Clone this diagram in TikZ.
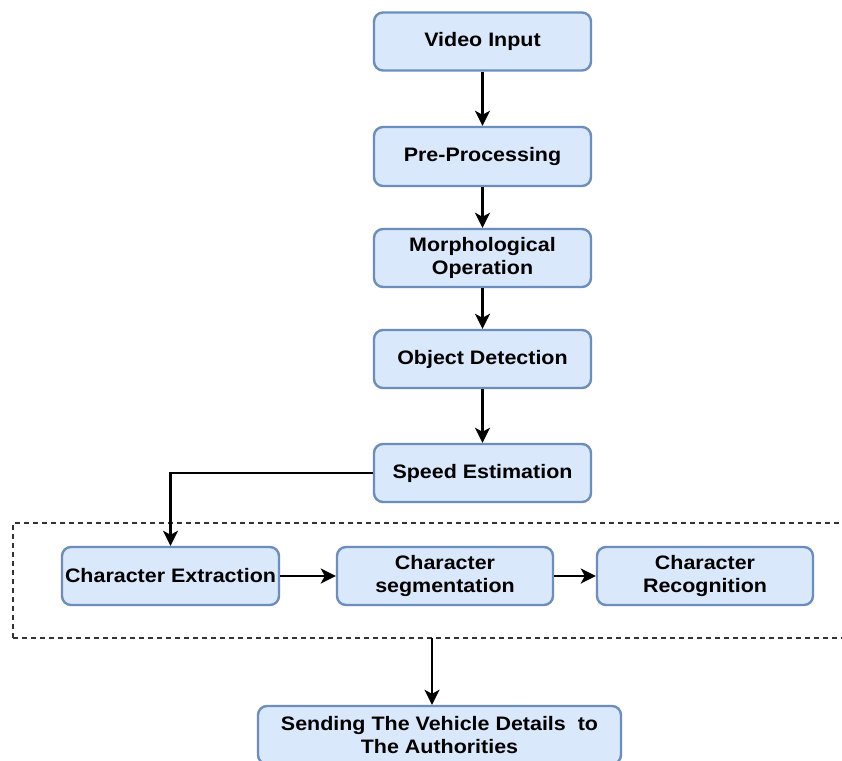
\documentclass[tikz,border=0pt]{standalone}
\usepackage{fontspec}
\setmainfont[FakeStretch=1.1]{Liberation Sans}
\usetikzlibrary{arrows.meta,calc}
\definecolor{boxfill}{HTML}{DAE8FC}
\definecolor{boxline}{HTML}{6C8EBF}
\begin{document}
\begin{tikzpicture}[x=1pt,y=-1pt,
  flowbox/.style={draw=boxline,fill=boxfill,line width=2.4pt,rounded corners=9pt,
    minimum width=217pt,minimum height=58pt,align=center,inner sep=2pt,
    font=\fontsize{19.5}{23.5}\selectfont\bfseries},
  arr/.style={draw=black,line width=2.6pt,-{Stealth[length=15pt,width=15pt,inset=4pt]}}]
\useasboundingbox (0,0) rectangle (842,760);
\clip (0,0) rectangle (842,760);
\fill[white] (0,0) rectangle (842,760);
% dashed group
\node[draw=black!80,dash pattern=on 5pt off 4pt,line width=1.4pt,minimum width=837pt,minimum height=115pt,inner sep=0pt] (grp) at (431.5,580.5) {};
\node[flowbox] (vi) at (482.5,41.5) {Video Input};
\node[flowbox,minimum height=59pt] (pp) at (482.5,156.5) {Pre-Processing};
\node[flowbox] (mo) at (482.5,258) {Morphological\\Operation};
\node[flowbox] (od) at (482.5,359) {Object Detection};
\node[flowbox] (se) at (482.5,473) {Speed Estimation};
\node[flowbox] (ce) at (170.5,576) {Character Extraction};
\node[flowbox,minimum width=216pt] (cs) at (445,576) {Character\\segmentation};
\node[flowbox,minimum width=216pt] (cr) at (705,576) {Character\\Recognition};
\node[flowbox,minimum width=363pt] (sd) at (439.5,735) {Sending The Vehicle Details\ \ to\\The Authorities};
\coordinate (gbot) at (432,638);
\draw[arr] (vi) -- (pp);
\draw[arr] (pp) -- (mo);
\draw[arr] (mo) -- (od);
\draw[arr] (od) -- (se);
\draw[arr] (se.west) -| (ce.north);
\draw[arr] (ce) -- (cs);
\draw[arr] (cs) -- (cr);
\draw[arr] (gbot) -- (gbot |- sd.north);
\end{tikzpicture}
\end{document}
